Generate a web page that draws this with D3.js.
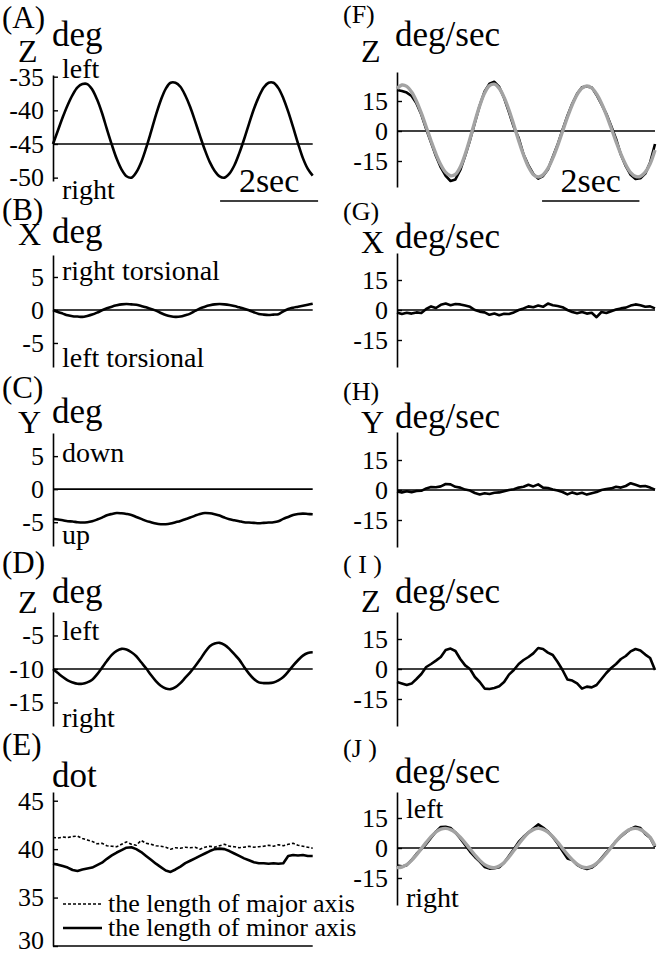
<!DOCTYPE html>
<html lang="en">
<head>
  <meta charset="UTF-8">
  <title>Eye position and velocity</title>
  <script src="https://d3js.org/d3.v7.min.js"></script>
  <style>
    body { margin: 0; background: #fff; }
    svg { display: block; font-family: "Liberation Serif", "Times New Roman", serif; }
  </style>
</head>
<body>
  <svg width="658" height="959"></svg>

  <script>
    // sample times (s), 0.1 s apart
    const time = d3.range(0, 5.35, 0.1);

    // (A)-(D) eye position, deg
    const posZ = [-45.0, -43.0, -41.0, -39.2, -37.7, -36.6, -36.1, -36.1, -36.9, -38.4,
      -40.4, -42.8, -45.1, -47.2, -48.8, -49.8, -50.0, -49.2, -47.7, -45.6,
      -43.2, -40.7, -38.5, -36.8, -35.9, -35.9, -36.5, -37.8, -39.5, -41.6,
      -43.8, -45.9, -47.7, -49.0, -49.8, -50.0, -49.4, -48.2, -46.4, -44.3,
      -42.0, -39.8, -38.0, -36.6, -35.9, -35.9, -36.7, -38.2, -40.2, -42.5,
      -44.9, -47.1, -48.7, -49.7];
    const posX = [0.0, -0.3, -0.55, -0.8, -0.95, -1.0, -1.05, -0.9, -0.7, -0.4,
      -0.05, 0.25, 0.5, 0.7, 0.85, 0.9, 0.85, 0.8, 0.6, 0.4,
      0.15, -0.1, -0.45, -0.75, -0.95, -1.05, -1.0, -0.8, -0.55, -0.15,
      0.25, 0.5, 0.7, 0.85, 0.9, 0.85, 0.75, 0.6, 0.4, 0.2,
      -0.05, -0.35, -0.6, -0.7, -0.75, -0.7, -0.65, -0.2, 0.15, 0.35,
      0.5, 0.65, 0.8, 0.95];
    const posY = [-4.5, -4.6, -4.7, -4.85, -4.9, -5.0, -5.05, -5.0, -4.85, -4.6,
      -4.3, -3.95, -3.75, -3.6, -3.65, -3.75, -3.9, -4.2, -4.5, -4.8,
      -5.0, -5.2, -5.3, -5.3, -5.2, -5.0, -4.8, -4.55, -4.3, -4.0,
      -3.75, -3.6, -3.65, -3.8, -4.0, -4.3, -4.55, -4.7, -4.85, -5.0,
      -5.05, -5.1, -5.15, -5.1, -5.05, -5.0, -4.85, -4.5, -4.2, -3.9,
      -3.75, -3.7, -3.75, -3.8];
    const posZ2 = [-10.0, -10.6, -11.2, -11.7, -12.0, -12.2, -12.2, -12.0, -11.6, -10.8,
      -9.8, -8.8, -7.9, -7.3, -7.0, -7.1, -7.5, -8.1, -9.0, -9.9,
      -10.9, -11.8, -12.5, -12.9, -13.0, -12.7, -12.1, -11.3, -10.5, -9.6,
      -8.6, -7.5, -6.6, -6.2, -6.1, -6.4, -7.0, -7.8, -8.6, -9.7,
      -10.7, -11.5, -12.0, -12.1, -12.1, -12.0, -11.7, -11.2, -10.4, -9.5,
      -8.7, -8.0, -7.6, -7.5];

    // (E) ellipse axes, dot
    const dotMajor = [41.2, 41.15, 41.25, 41.2, 41.3, 41.35, 41.1, 40.95, 40.8, 40.55,
      40.6, 40.35, 40.3, 40.25, 40.5, 40.75, 40.5, 40.4, 40.9, 40.6,
      40.5, 40.35, 40.3, 40.2, 40.0, 40.15, 40.1, 40.2, 40.15, 40.2,
      40.0, 40.2, 40.3, 40.2, 40.35, 40.5, 40.3, 40.25, 40.15, 40.2,
      40.3, 40.2, 40.25, 40.3, 40.4, 40.3, 40.45, 40.35, 40.5, 40.6,
      40.4, 40.3, 40.2, 40.1];
    const dotMinor = [38.5, 38.4, 38.25, 38.1, 37.85, 37.75, 37.9, 38.0, 38.1, 38.35,
      38.6, 39.0, 39.35, 39.65, 39.9, 40.15, 40.2, 40.0, 39.7, 39.3,
      38.9, 38.5, 38.15, 37.8, 37.65, 37.9, 38.2, 38.55, 38.8, 39.05,
      39.3, 39.55, 39.8, 40.0, 40.05, 40.0, 39.8, 39.55, 39.3, 39.05,
      38.85, 38.65, 38.55, 38.55, 38.5, 38.55, 38.5, 38.55, 39.3, 39.4,
      39.35, 39.4, 39.3, 39.3];

    // (F)-(J) eye velocity, deg/sec
    const velZ = [20.5, 20.0, 19.2, 17.5, 13.8, 8.2, 1.0, -5.8, -12.5, -18.2,
      -22.4, -25.0, -24.2, -19.5, -12.4, -4.5, 4.2, 12.8, 19.8, 23.6,
      24.6, 22.0, 16.5, 9.4, 2.0, -3.5, -11.8, -17.2, -21.5, -23.8,
      -22.5, -19.2, -13.0, -6.8, 0.5, 7.5, 13.6, 18.6, 21.9, 22.3,
      21.8, 18.0, 13.4, 8.6, 2.5, -4.0, -11.9, -17.6, -21.9, -24.0,
      -23.6, -21.3, -15.8, -6.5];
    const velZfit = [21.2, 23.0, 22.3, 19.5, 14.9, 8.9, 2.0, -5.0, -11.5, -16.9,
      -20.7, -22.4, -21.7, -18.0, -11.7, -3.8, 4.8, 12.7, 19.0, 22.7,
      23.4, 21.3, 16.8, 10.5, 3.0, -4.8, -12.0, -17.9, -21.7, -23.0,
      -21.9, -18.7, -13.6, -7.3, -0.2, 6.8, 13.1, 18.2, 21.4, 22.5,
      21.5, 18.5, 13.9, 8.1, 1.5, -5.3, -11.6, -16.9, -20.8, -22.7,
      -22.7, -20.6, -16.4, -9.5];
    const velX = [-1.2, -2.0, -1.4, -1.8, -1.2, -1.5, 0.5, 1.8, 1.0, 2.6,
      3.2, 2.4, 3.0, 2.8, 2.2, 1.6, 0.0, -0.8, -1.2, -2.4,
      -1.8, -2.6, -1.9, -2.0, -1.2, 0.0, 0.8, 1.8, 1.4, 2.2,
      1.6, 3.2, 2.4, 2.0, 1.4, 0.0, -1.0, -1.6, -1.0, -1.8,
      -1.4, -3.6, -1.0, -1.5, -0.6, 0.2, 0.8, 1.2, 2.2, 2.8,
      2.4, 1.6, 1.8, 0.8];
    const velY = [-0.8, -1.3, -0.6, -1.1, -0.5, -0.4, 0.8, 1.5, 1.4, 1.8,
      3.0, 2.8, 1.6, 1.2, 0.2, -0.3, -1.5, -2.2, -1.6, -2.0,
      -1.4, -1.2, -0.6, 0.0, 0.4, 1.2, 1.6, 2.6, 1.8, 2.8,
      1.2, 1.0, 0.2, -0.3, -1.0, -2.2, -1.2, -2.0, -1.4, -2.3,
      -1.6, -1.0, 0.0, 0.5, 0.8, 1.6, 1.2, 2.0, 3.4, 2.6,
      1.8, 2.0, 1.2, 0.2];
    const velZ2 = [-6.5, -7.2, -8.0, -7.3, -5.0, -2.5, 1.0, 2.5, 4.2, 6.0,
      9.5, 10.2, 9.0, 5.0, 1.8, 0.0, -4.0, -6.5, -9.8, -10.0,
      -9.5, -8.6, -6.5, -2.8, -0.5, 2.5, 4.5, 6.0, 7.8, 10.5,
      10.0, 8.2, 7.0, 3.5, -0.5, -5.2, -5.8, -7.2, -9.8, -8.8,
      -9.2, -8.0, -5.0, -2.0, 0.5, 2.5, 5.0, 6.5, 8.8, 10.0,
      9.2, 7.2, 5.5, -0.5];
    const velJ = [-8.8, -9.2, -8.6, -6.0, -3.0, -0.5, 2.0, 5.2, 8.2, 10.5,
      10.6, 10.0, 7.8, 4.8, 1.5, -1.8, -4.5, -6.8, -9.5, -10.3,
      -10.1, -9.6, -7.4, -4.0, -0.6, 3.0, 5.6, 7.8, 9.8, 11.8,
      10.2, 8.3, 5.5, 2.2, -1.5, -5.2, -6.0, -8.4, -9.8, -10.5,
      -9.8, -8.0, -5.0, -2.2, 0.5, 3.4, 5.8, 7.8, 9.5, 10.6,
      10.0, 7.0, 5.2, 0.5];
    const velJfit = [-9.8, -9.5, -8.3, -6.2, -3.4, -0.3, 2.8, 5.7, 8.0, 9.4,
      9.8, 9.2, 7.7, 5.4, 2.6, -0.5, -3.5, -6.2, -8.3, -9.5,
      -9.8, -9.0, -7.2, -4.5, -1.3, 2.0, 5.1, 7.6, 9.2, 9.8,
      9.3, 7.9, 5.7, 2.9, -0.2, -3.2, -5.9, -8.1, -9.4, -9.8,
      -9.2, -7.7, -5.5, -2.7, 0.3, 3.3, 6.0, 8.1, 9.4, 9.8,
      9.2, 7.6, 5.3, 1.0];

    // tick values
    const ticksA = [-35, -40, -45, -50];
    const ticksXY = [5, 0, -5];
    const ticksD = [-5, -10, -15];
    const ticksE = [45, 40, 35, 30];
    const ticksVel = [15, 0, -15];

    const svg = d3.select("svg");
    const leftX = d3.scaleLinear().domain([0, 5.3]).range([53, 312.7]);
    const rightX = d3.scaleLinear().domain([0, 5.3]).range([397, 655]);

    const panels = [
      { tag: "(A)", name: "Z", unit: "deg", x: leftX, domain: [-50.5, -34.75], range: [181, 75], ticks: ticksA, ref: -45,
        tagY: 28, nameY: 62, unitY: 46, series: [{ v: posZ }], notes: [["left", 78], ["right", 199]], bar: [3.41, 201] },
      { tag: "(B)", name: "X", unit: "deg", x: leftX, domain: [-8.64, 8.33], range: [367, 255], ticks: ticksXY, ref: 0,
        tagY: 220, nameY: 245, unitY: 243, series: [{ v: posX }], notes: [["right torsional", 280], ["left torsional", 367]] },
      { tag: "(C)", name: "Y", unit: "deg", x: leftX, domain: [-8.6, 8.5], range: [546, 433], ticks: ticksXY, ref: 0,
        tagY: 398, nameY: 433, unitY: 423, series: [{ v: posY }], notes: [["down", 462], ["up", 544]] },
      { tag: "(D)", name: "Z", unit: "deg", x: leftX, domain: [-18.5, -1.5], range: [726, 612], ticks: ticksD, ref: -10,
        tagY: 573, nameY: 613, unitY: 603, series: [{ v: posZ2 }], notes: [["left", 640], ["right", 727]] },
      { tag: "(E)", name: "", unit: "dot", x: leftX, domain: [30, 45.9], range: [946, 792], ticks: ticksE, ref: 30,
        tagY: 755, nameY: 787, unitY: 787, series: [{ v: dotMajor, dash: "3,2", w: 1.6 }, { v: dotMinor }], notes: [] },
      { tag: "(F)", name: "Z", unit: "deg/sec", x: rightX, domain: [-28, 29.5], range: [187, 72], ticks: ticksVel, ref: 0,
        tagY: 23, nameY: 62, unitY: 46, series: [{ v: velZ }, { v: velZfit, gray: true }], notes: [], bar: [2.98, 201] },
      { tag: "(G)", name: "X", unit: "deg/sec", x: rightX, domain: [-28.5, 28.5], range: [367, 253], ticks: ticksVel, ref: 0,
        tagY: 220, nameY: 253, unitY: 248, series: [{ v: velX }], notes: [] },
      { tag: "(H)", name: "Y", unit: "deg/sec", x: rightX, domain: [-28.5, 29], range: [547, 432], ticks: ticksVel, ref: 0,
        tagY: 400, nameY: 433, unitY: 428, series: [{ v: velY }], notes: [] },
      { tag: "( I )", name: "Z", unit: "deg/sec", x: rightX, domain: [-28.5, 28.5], range: [726, 612], ticks: ticksVel, ref: 0,
        tagY: 573, nameY: 612, unitY: 603, series: [{ v: velZ2 }], notes: [] },
      { tag: "(J )", name: "", unit: "deg/sec", x: rightX, domain: [-28.5, 28], range: [905, 792], ticks: ticksVel, ref: 0,
        tagY: 757, nameY: 783, unitY: 783, series: [{ v: velJ }, { v: velJfit, gray: true }], notes: [["left", 818], ["right", 907]] }
    ];

    function text(x, y, s, size, anchor) {
      return svg.append("text")
        .attr("x", x).attr("y", y)
        .attr("font-size", size)
        .attr("text-anchor", anchor || "start")
        .text(s);
    }

    panels.forEach(p => {
      const x = p.x;
      const y = d3.scaleLinear().domain(p.domain).range(p.range);
      const x0 = x.range()[0];
      const left = x0 < 200;

      // headings
      text(left ? 2 : 343, p.tagY, p.tag, left ? 31 : 26);
      if (p.name) text(left ? 18 : 361, p.nameY, p.name, 32);
      text(left ? 52 : 395, p.unitY, p.unit, 35);

      // y axis, ticks pointing into the plot
      svg.append("g")
        .attr("transform", `translate(${x0},0)`)
        .call(d3.axisLeft(y).tickValues(p.ticks).tickSizeInner(-5).tickSizeOuter(0)
          .tickPadding(9).tickFormat(d => String(d)))
        .call(g => g.select(".domain").attr("stroke-width", 1.6))
        .call(g => g.selectAll(".tick line").attr("stroke-width", 1.4))
        .call(g => g.selectAll("text").attr("font-size", 26).attr("font-family", "Liberation Serif").attr("fill", "#000"))
        .call(g => g.selectAll(".tick text").filter(d => p.unit === "dot" && d === p.ref).attr("y", -6));

      // reference line
      svg.append("line")
        .attr("x1", x0).attr("x2", x.range()[1])
        .attr("y1", y(p.ref)).attr("y2", y(p.ref))
        .attr("stroke", "#000").attr("stroke-width", 1.6);

      // traces
      p.series.forEach(s => {
        const line = d3.line()
          .x((d, i) => x(time[i]))
          .y(d => y(d))
          .curve(s.gray || p.unit === "deg" ? d3.curveCatmullRom : d3.curveLinear);
        svg.append("path")
          .datum(s.v)
          .attr("fill", "none")
          .attr("stroke", s.gray ? "#a3a3a3" : "#000")
          .attr("stroke-width", s.gray ? 3.4 : (s.w || 2.6))
          .attr("stroke-dasharray", s.dash || null)
          .attr("stroke-linejoin", "round")
          .attr("d", line);
      });

      // direction notes
      p.notes.forEach(([s, yy]) => text(x0 + 9, yy, s, 28));

      // 2 sec scale bar
      if (p.bar) {
        const bx1 = x(p.bar[0]), bx2 = x(p.bar[0] + 2);
        svg.append("line")
          .attr("x1", bx1).attr("x2", bx2)
          .attr("y1", p.bar[1]).attr("y2", p.bar[1])
          .attr("stroke", "#000").attr("stroke-width", 1.6);
        text((bx1 + bx2) / 2, p.bar[1] - 9, "2sec", 34, "middle");
      }
    });

    // legend for (E)
    const legend = [["the length of major axis", "3,2", 1.6, 904], ["the length of minor axis", null, 2.4, 928]];
    legend.forEach(([s, dash, w, yy]) => {
      svg.append("line")
        .attr("x1", 63).attr("x2", 102).attr("y1", yy).attr("y2", yy)
        .attr("stroke", "#000").attr("stroke-width", w)
        .attr("stroke-dasharray", dash);
      text(108, yy + 8, s, 26);
    });
  </script>
</body>
</html>
